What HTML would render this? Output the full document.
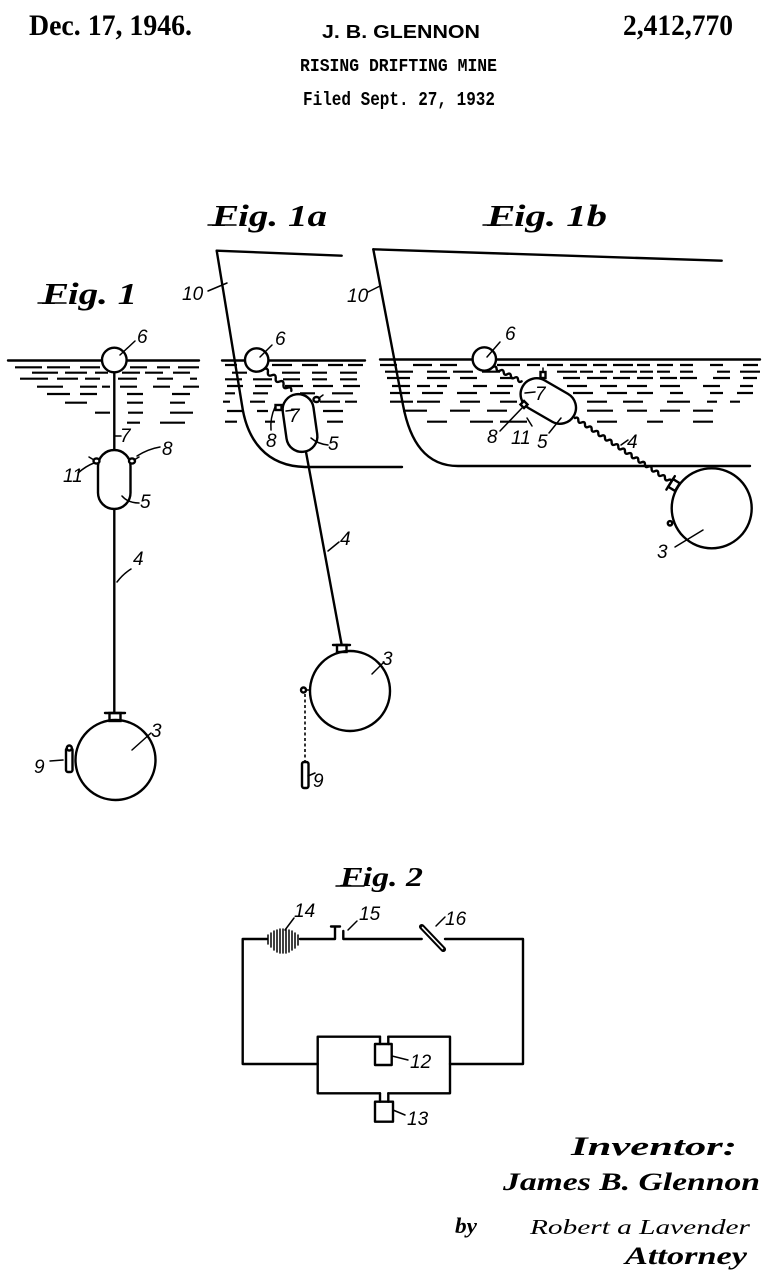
<!DOCTYPE html>
<html>
<head>
<meta charset="utf-8">
<style>
  html,body{margin:0;padding:0;background:#fff;}
  body{width:783px;height:1280px;overflow:hidden;}
  svg{display:block;}
  .ln{stroke:#000;fill:none;stroke-width:2.4;stroke-linecap:round;stroke-linejoin:round;}
  .th{stroke:#000;fill:none;stroke-width:1.5;stroke-linecap:round;}
  .dash{stroke:#000;fill:none;stroke-width:2.2;stroke-linecap:butt;}
  .wf{fill:#fff;stroke:#000;stroke-width:2.4;}
  .lab{font-family:"Liberation Sans",sans-serif;font-style:italic;font-size:19px;fill:#000;}
  .fig{font-family:"Liberation Serif",serif;font-style:italic;font-weight:bold;fill:#000;}
  .scr{font-family:"Liberation Serif",serif;font-style:italic;fill:#000;}
</style>
</head>
<body>
<svg width="783" height="1280" viewBox="0 0 783 1280" xmlns="http://www.w3.org/2000/svg">
  <rect width="783" height="1280" fill="#fff"/>

  <!-- Header -->
  <text x="29" y="35" font-family="Liberation Serif, serif" font-weight="bold" font-size="30" textLength="163" lengthAdjust="spacingAndGlyphs">Dec. 17, 1946.</text>
  <text x="322" y="38" font-family="Liberation Sans, sans-serif" font-weight="bold" font-size="18" textLength="158" lengthAdjust="spacingAndGlyphs">J. B. GLENNON</text>
  <text x="623" y="35" font-family="Liberation Serif, serif" font-weight="bold" font-size="30" textLength="110" lengthAdjust="spacingAndGlyphs">2,412,770</text>
  <text x="300" y="71" font-family="Liberation Mono, monospace" font-weight="bold" font-size="18" textLength="197" lengthAdjust="spacingAndGlyphs">RISING DRIFTING MINE</text>
  <text x="303" y="105" font-family="Liberation Mono, monospace" font-weight="bold" font-size="19" textLength="192" lengthAdjust="spacingAndGlyphs">Filed Sept. 27, 1932</text>

  <!-- Figure titles -->
  <text class="fig" x="42" y="304" font-size="31" textLength="95" lengthAdjust="spacingAndGlyphs">Fig. 1</text>
  <line class="th" x1="38" y1="303" x2="66" y2="303"/>
  <text class="fig" x="212" y="226" font-size="31" textLength="115" lengthAdjust="spacingAndGlyphs">Fig. 1a</text>
  <line class="th" x1="208" y1="225" x2="236" y2="225"/>
  <text class="fig" x="487" y="226" font-size="31" textLength="120" lengthAdjust="spacingAndGlyphs">Fig. 1b</text>
  <line class="th" x1="483" y1="225" x2="512" y2="225"/>
  <text class="fig" x="340" y="886" font-size="27" textLength="83" lengthAdjust="spacingAndGlyphs">Fig. 2</text>
  <line class="th" x1="336" y1="886" x2="364" y2="886"/>

  <!-- ================= FIG 1 ================= -->
  <line class="ln" x1="8" y1="360.5" x2="199" y2="360.5"/>
  <path class="dash" d="M15 367.3H42M47 367.3H70M80 367.3H100M130 367.3H147M157 367.3H170M178 367.3H199
    M32 372.7H58M65 372.7H87M95 372.7H108M122 372.7H140M145 372.7H163M173 372.7H190
    M20 378.7H48M57 378.7H78M85 378.7H100M118 378.7H137M157 378.7H173M190 378.7H197
    M37 386.7H63M80 386.7H97M102 386.7H110M120 386.7H137M153 386.7H170M183 386.7H199
    M47 394H70M80 394H97M127 394H143M172 394H190
    M65 402.7H87M127 402.7H143M170 402.7H185
    M95 412.7H110M128 412.7H143M170 412.7H193
    M127 422.7H140M160 422.7H185"/>
  <line class="ln" x1="114.3" y1="372" x2="114.3" y2="451"/>
  <line class="ln" x1="114.3" y1="508" x2="114.3" y2="714"/>
  <circle class="wf" cx="114.3" cy="360" r="12.3"/>
  <rect class="wf" x="98" y="450" width="32.5" height="59" rx="16.2"/>
  <!-- lugs -->
  <ellipse class="wf" cx="96.5" cy="461" rx="3" ry="2.6" stroke-width="1.6"/>
  <line class="th" x1="89" y1="457" x2="94" y2="460"/>
  <ellipse class="wf" cx="132" cy="461" rx="3" ry="2.6" stroke-width="1.6"/>
  <line class="th" x1="139" y1="457" x2="134" y2="460"/>
  <!-- neck + sphere -->
  <rect class="wf" x="109.5" y="713" width="11" height="8" stroke-width="1.8"/>
  <line class="ln" x1="105" y1="713" x2="125" y2="713"/>
  <circle class="ln" cx="115.5" cy="760" r="40"/>
  <!-- element 9 -->
  <rect class="wf" x="66" y="748" width="6.5" height="24" rx="2" stroke-width="1.8"/>
  <circle class="wf" cx="69.3" cy="748" r="2.5" stroke-width="1.6"/>
  <!-- labels fig1 -->
  <text class="lab" x="137" y="343">6</text>
  <line class="th" x1="120" y1="355" x2="135" y2="341"/>
  <text class="lab" x="120" y="442">7</text>
  <line class="th" x1="115" y1="436" x2="121" y2="436"/>
  <text class="lab" x="162" y="455">8</text>
  <path class="th" d="M137 456 Q148 449 160 447"/>
  <text class="lab" x="63" y="482">11</text>
  <path class="th" d="M78 473 Q86 466 94 463"/>
  <text class="lab" x="140" y="508">5</text>
  <path class="th" d="M122 496 Q128 503 139 503"/>
  <text class="lab" x="133" y="565">4</text>
  <path class="th" d="M117 582 Q123 574 131 569"/>
  <text class="lab" x="151" y="737">3</text>
  <line class="th" x1="132" y1="750" x2="151" y2="733"/>
  <text class="lab" x="34" y="773">9</text>
  <line class="th" x1="50" y1="761" x2="63" y2="760"/>

  <!-- ================= FIG 1a ================= -->
  <path class="ln" stroke-width="2.7" d="M216.7 250.7 L341.7 255.7"/>
  <path class="ln" stroke-width="2.7" d="M216.7 250.7 L242 405 C247 440 266 466 305 467 L402 467"/>
  <line class="ln" x1="222" y1="360.5" x2="365" y2="360.5"/>
  <path class="dash" d="M225 365H237M272 365H292M302 365H318M328 365H343M348 365H363
    M232 372.7H247M282 372.7H300M312 372.7H327M340 372.7H357
    M225 379.3H242M253 379.3H272M283 379.3H300M312 379.3H327M340 379.3H357
    M227 386H243M255 386H272M285 386H303M313 386H333M343 386H360
    M225 393.3H235M253 393.3H268M300 393.3H315M332 393.3H353
    M223 401.7H230M250 401.7H265M320 401.7H340M345 401.7H357
    M227 411H242M257 411H268M323 411H343
    M225 421.7H237M265 421.7H275M327 421.7H343"/>
  <!-- cable 4 -->
  <line class="ln" x1="306" y1="452" x2="341.7" y2="645"/>
  <!-- wavy cable float->capsule -->
  <path class="ln" stroke-width="2" transform="translate(264 369) rotate(38.7)" d="M0 0 q2.5 -4 5 0 t5 0 t5 0 t5 0 t5 0 t5 0 t5 0"/>
  <circle class="wf" cx="256.7" cy="360" r="11.7"/>
  <g transform="translate(300 423) rotate(-8)">
    <rect class="wf" x="-15.5" y="-29" width="31" height="58" rx="15.5"/>
  </g>
  <!-- lugs -->
  <rect class="wf" x="275.5" y="405" width="6" height="5" stroke-width="1.6"/>
  <path class="th" d="M275 407 Q270 418 271 430"/>
  <ellipse class="wf" cx="316.5" cy="399.5" rx="3" ry="2.5" stroke-width="1.6"/>
  <line class="th" x1="319" y1="398" x2="323" y2="395"/>
  <!-- neck + sphere -->
  <rect class="wf" x="337" y="645" width="9.5" height="7" stroke-width="1.8"/>
  <line class="ln" x1="333" y1="645" x2="350" y2="645"/>
  <circle class="ln" cx="350" cy="691" r="40"/>
  <!-- element 9 (1a) -->
  <line class="th" x1="305" y1="690" x2="310" y2="690"/>
  <circle class="wf" cx="303.5" cy="690" r="2.5" stroke-width="1.6"/>
  <line x1="305" y1="694" x2="305" y2="762" stroke="#000" stroke-width="1.6" stroke-dasharray="3 2.5"/>
  <rect class="wf" x="302" y="762" width="6.5" height="26" rx="2" stroke-width="1.8"/>
  <!-- labels 1a -->
  <text class="lab" x="182" y="300">10</text>
  <line class="th" x1="208" y1="291" x2="227" y2="283"/>
  <text class="lab" x="275" y="345">6</text>
  <line class="th" x1="260" y1="357" x2="272" y2="345"/>
  <text class="lab" x="289" y="422">7</text>
  <line class="th" x1="286" y1="411" x2="294" y2="410"/>
  <text class="lab" x="266" y="447">8</text>
  <text class="lab" x="328" y="450">5</text>
  <path class="th" d="M311 438 Q318 444 328 445"/>
  <text class="lab" x="340" y="545">4</text>
  <line class="th" x1="328" y1="551" x2="339" y2="542"/>
  <text class="lab" x="382" y="665">3</text>
  <line class="th" x1="372" y1="674" x2="384" y2="662"/>
  <text class="lab" x="313" y="787">9</text>
  <line class="th" x1="308" y1="776" x2="315" y2="773"/>

  <!-- ================= FIG 1b ================= -->
  <path class="ln" stroke-width="2.7" d="M373.3 249.3 L721.7 260.7"/>
  <path class="ln" stroke-width="2.7" d="M373.3 249.3 L403 405 C410 442 426 466 458 466 L750 466"/>
  <line class="ln" x1="380" y1="359.5" x2="760" y2="359.5"/>
  <path class="dash" d="M380 365H397M413 365H432M440 365H457M497 365H520M527 365H540M547 365H563M570 365H587M593 365H607M613 365H633M637 365H650M657 365H673M680 365H693M710 365H723M743 365H758
    M385 371.7H413M427 371.7H447M453 371.7H473M482 371.7H500M557 371.7H577M580 371.7H593M600 371.7H613M620 371.7H637M640 371.7H653M657 371.7H670M680 371.7H693M717 371.7H730M740 371.7H760
    M387 378H410M427 378H450M460 378H477M500 378H513M563 378H580M587 378H607M613 378H630M637 378H653M660 378H677M680 378H697M713 378H730M743 378H757
    M392 386H410M417 386H430M437 386H447M473 386H487M497 386H513M567 386H587M600 386H617M627 386H647M660 386H680M703 386H720M740 386H753
    M390 393H410M422 393H443M457 393H477M490 393H510M573 393H593M607 393H627M637 393H653M670 393H683M710 393H723M737 393H753
    M390 401.7H413M417 401.7H440M460 401.7H480M500 401.7H517M587 401.7H607M623 401.7H643M667 401.7H690M707 401.7H717M730 401.7H740
    M403 410.7H427M450 410.7H470M487 410.7H507M587 410.7H613M627 410.7H647M660 410.7H680M693 410.7H713
    M427 421.7H447M470 421.7H493M500 421.7H527M597 421.7H617M647 421.7H663M693 421.7H713"/>
  <!-- wavy: float -> capsule -->
  <path class="ln" stroke-width="2" transform="translate(493 367) rotate(26.6)" d="M0 0 q2 -3 4 0 t4 0 t4 0 t4 0 t4 0 t4 0 t4 0 t4 0"/>
  <!-- wavy cable 4 -->
  <path class="ln" stroke-width="2" transform="translate(575 418) rotate(33.6)" d="M0 0 q2 -3 4 0 t4 0 t4 0 t4 0 t4 0 t4 0 t4 0 t4 0 t4 0 t4 0 t4 0 t4 0 t4 0 t4 0 t4 0 t4 0 t4 0 t4 0 t4 0 t4 0 t4 0 t4 0 t4 0 t4 0 t4 0 t4 0 t4 0 t4 0 t4 0"/>
  <circle class="wf" cx="484.3" cy="359" r="11.7"/>
  <g transform="translate(548.3 401) rotate(30)">
    <rect class="wf" x="-29.5" y="-16" width="59" height="32" rx="16"/>
  </g>
  <!-- lugs 1b -->
  <rect class="wf" x="540.5" y="372" width="5" height="6" stroke-width="1.6"/>
  <line class="th" x1="543" y1="368" x2="543" y2="372"/>
  <rect class="wf" x="521.5" y="402" width="5" height="5" stroke-width="1.6" transform="rotate(45 524 404.5)"/>
  <!-- neck + sphere -->
  <g transform="translate(674 485) rotate(-58)">
    <rect class="wf" x="-4.5" y="-4" width="9" height="8" stroke-width="1.8"/>
    <line class="ln" x1="-8" y1="-4" x2="8" y2="-4"/>
  </g>
  <circle class="ln" cx="711.7" cy="508.3" r="40"/>
  <circle class="wf" cx="670" cy="523.3" r="2.2" stroke-width="1.6"/>
  <!-- labels 1b -->
  <text class="lab" x="347" y="302">10</text>
  <line class="th" x1="368" y1="292" x2="380" y2="286"/>
  <text class="lab" x="505" y="340">6</text>
  <line class="th" x1="487" y1="357" x2="500" y2="342"/>
  <text class="lab" x="535" y="400">7</text>
  <line class="th" x1="525" y1="393" x2="535" y2="392"/>
  <text class="lab" x="487" y="443">8</text>
  <line class="th" x1="500" y1="431" x2="522" y2="408"/>
  <text class="lab" x="511" y="444">11</text>
  <line class="th" x1="527" y1="418" x2="532" y2="426"/>
  <text class="lab" x="537" y="448">5</text>
  <line class="th" x1="549" y1="433" x2="561" y2="418"/>
  <text class="lab" x="627" y="448">4</text>
  <line class="th" x1="621" y1="445" x2="628" y2="440"/>
  <text class="lab" x="657" y="558">3</text>
  <line class="th" x1="675" y1="547" x2="703" y2="530"/>

  <!-- ================= FIG 2 ================= -->
  <path class="ln" d="M267 939 H242.7 V1064 H317.7"/>
  <path class="ln" d="M450 1064 H523 V939 H445"/>
  <path class="ln" d="M300 939 H335 V927"/>
  <line class="ln" x1="331" y1="926.5" x2="340" y2="926.5"/>
  <path class="ln" d="M343.3 931 V939 H421.7"/>
  <!-- battery 14 -->
  <path class="th" stroke-width="1.7" d="M268 935V944M271 933V947M274 931V950M277 930V952M280 929V953M283 929V953M286 929V953M289 930V952M292 931V950M295 933V948M298 935V945"/>
  <!-- switch 16 -->
  <line x1="421.7" y1="926.7" x2="443.3" y2="949.3" stroke="#000" stroke-width="5.5" stroke-linecap="round"/>
  <line x1="422.5" y1="927.5" x2="442.5" y2="948.5" stroke="#fff" stroke-width="1.6" stroke-linecap="round"/>
  <!-- box -->
  <path class="ln" d="M380 1036.7 H317.7 V1093.3 H380 M388.3 1093.3 H450 V1036.7 H388.3"/>
  <path class="ln" d="M380 1036.7 V1044 M388.3 1036.7 V1044"/>
  <rect class="ln" x="375" y="1044" width="16.7" height="21"/>
  <path class="ln" d="M380 1093.3 V1101.7 M388.3 1093.3 V1101.7"/>
  <rect class="ln" x="375" y="1101.7" width="18" height="20"/>
  <!-- labels fig2 -->
  <text class="lab" x="294" y="917">14</text>
  <line class="th" x1="285" y1="930" x2="294" y2="918"/>
  <text class="lab" x="359" y="920">15</text>
  <line class="th" x1="348" y1="930" x2="357" y2="921"/>
  <text class="lab" x="445" y="925">16</text>
  <line class="th" x1="436" y1="926" x2="445" y2="917"/>
  <text class="lab" x="410" y="1068">12</text>
  <line class="th" x1="392" y1="1056" x2="408" y2="1060"/>
  <text class="lab" x="407" y="1125">13</text>
  <line class="th" x1="393" y1="1110" x2="405" y2="1115"/>

  <!-- ================= Inventor ================= -->
  <text class="scr" x="571" y="1155" font-size="26" font-weight="bold" textLength="166" lengthAdjust="spacingAndGlyphs">Inventor:</text>
  <text class="scr" x="503" y="1190" font-size="25" font-weight="bold" textLength="257" lengthAdjust="spacingAndGlyphs">James B. Glennon</text>
  <text class="scr" x="455" y="1233" font-size="22" font-weight="bold" textLength="22" lengthAdjust="spacingAndGlyphs">by</text>
  <text class="scr" x="530" y="1234" font-size="21" textLength="220" lengthAdjust="spacingAndGlyphs">Robert a Lavender</text>
  <text class="scr" x="625" y="1264" font-size="25" font-weight="bold" textLength="122" lengthAdjust="spacingAndGlyphs">Attorney</text>
</svg>
</body>
</html>
